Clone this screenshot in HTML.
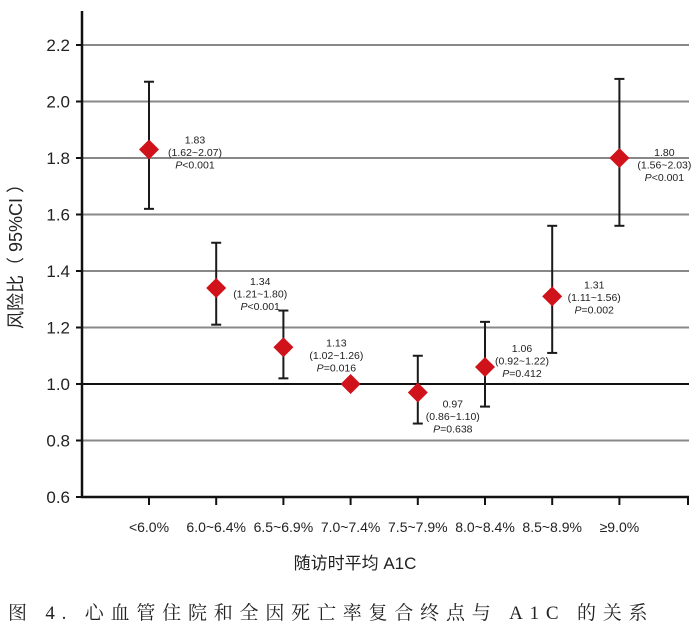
<!DOCTYPE html>
<html><head><meta charset="utf-8"><style>
body{margin:0;background:#fff;width:700px;height:632px;overflow:hidden}
svg{display:block}
</style></head><body>
<svg id="chart" width="700" height="632" xmlns="http://www.w3.org/2000/svg" font-family="Liberation Sans, Noto Sans CJK SC, sans-serif"></svg>
<script>
const categories=["<6.0%","6.0~6.4%","6.5~6.9%","7.0~7.4%","7.5~7.9%","8.0~8.4%","8.5~8.9%","≥9.0%"];
const hr=[1.83,1.34,1.13,1.00,0.97,1.06,1.31,1.80];
const ciLow=[1.62,1.21,1.02,1.00,0.86,0.92,1.11,1.56];
const ciHigh=[2.07,1.50,1.26,1.00,1.10,1.22,1.56,2.08];
const ciText=["(1.62~2.07)","(1.21~1.80)","(1.02~1.26)","","(0.86~1.10)","(0.92~1.22)","(1.11~1.56)","(1.56~2.03)"];
const pText=["<0.001","<0.001","=0.016","","=0.638","=0.412","=0.002","<0.001"];
const yTicks=[0.6,0.8,1.0,1.2,1.4,1.6,1.8,2.0,2.2];
const labelDx=[46,44,53,0,35,37,42,45];
const labelDy=[3,6,8,0,24,-6,1,7];

const svg=document.getElementById('chart');
const NS='http://www.w3.org/2000/svg';
function y(v){return 384-(v-1)*282.5;}
function x(i){return 149+i*67.2;}
function mk(tag,attrs,parent){const e=document.createElementNS(NS,tag);for(const k in attrs)e.setAttribute(k,attrs[k]);(parent||svg).appendChild(e);return e;}

yTicks.forEach(v=>{
  if(v>0.6){const g=mk('line',{x1:82,x2:689,y1:y(v),y2:y(v),stroke:v===1?'#111':'#888','stroke-width':2});
  
  }
  const t=mk('text',{x:70,y:y(v)+6,'text-anchor':'end','font-size':17,fill:'#222'});
  t.textContent=v.toFixed(1);
  
  
  const tk=mk('line',{x1:76,x2:82,y1:y(v),y2:y(v),stroke:'#111','stroke-width':2});
  
  
});
const ya=mk('line',{x1:82,x2:82,y1:11,y2:498,stroke:'#111','stroke-width':2.5});


const xa=mk('line',{x1:81,x2:689,y1:497,y2:497,stroke:'#111','stroke-width':2.5});


const endTick=mk('line',{x1:688,x2:688,y1:497,y2:505,stroke:'#111','stroke-width':2});



categories.forEach((c,i)=>{
  const cx=x(i);
  const tk=mk('line',{x1:cx,x2:cx,y1:497,y2:505,stroke:'#111','stroke-width':2});
  
  
  const t=mk('text',{x:cx,y:532,'text-anchor':'middle','font-size':14,fill:'#222'});
  t.textContent=c;
  
  
  if(ciHigh[i]>ciLow[i]){
    const g=mk('g',{stroke:'#1a1a1a','stroke-width':2});
    
    
    mk('line',{x1:cx,x2:cx,y1:y(ciHigh[i]),y2:y(ciLow[i])},g);
    mk('line',{x1:cx-5,x2:cx+5,y1:y(ciHigh[i]),y2:y(ciHigh[i])},g);
    mk('line',{x1:cx-5,x2:cx+5,y1:y(ciLow[i]),y2:y(ciLow[i])},g);
  }
  const cy=y(hr[i]);
  const d=mk('polygon',{points:`${cx},${cy-10} ${cx+10},${cy} ${cx},${cy+10} ${cx-10},${cy}`,fill:'#d0121b'});
  
  
  if(ciText[i]){
    const lx=cx+labelDx[i], ly=cy+labelDy[i];
    const t=mk('text',{x:lx,'text-anchor':'middle','font-size':10.5,fill:'#222'});
    
    
    const a=mk('tspan',{x:lx,y:ly-9},t);a.textContent=hr[i].toFixed(2);
    const b=mk('tspan',{x:lx,y:ly+3.5},t);b.textContent=ciText[i];
    const c1=mk('tspan',{x:lx,y:ly+16,'font-style':'italic'},t);c1.textContent='P';
    const c2=mk('tspan',{},t);c2.textContent=pText[i];
  }
});
const yt=mk('text',{x:0,y:0,transform:'translate(22,252) rotate(-90)','text-anchor':'middle','font-size':18,fill:'#222'});
yt.textContent='风险比（ 95%CI ）';


const xt=mk('text',{x:355,y:569,'text-anchor':'middle','font-size':17,fill:'#222'});
xt.textContent='随访时平均 A1C';


const cap=mk('text',{x:8,y:619,'font-size':19,fill:'#222','font-family':'Liberation Serif, Noto Serif CJK SC, serif','letter-spacing':'6.8'});
cap.textContent='图 4. 心血管住院和全因死亡率复合终点与 A1C 的关系';


</script>
</body></html>
